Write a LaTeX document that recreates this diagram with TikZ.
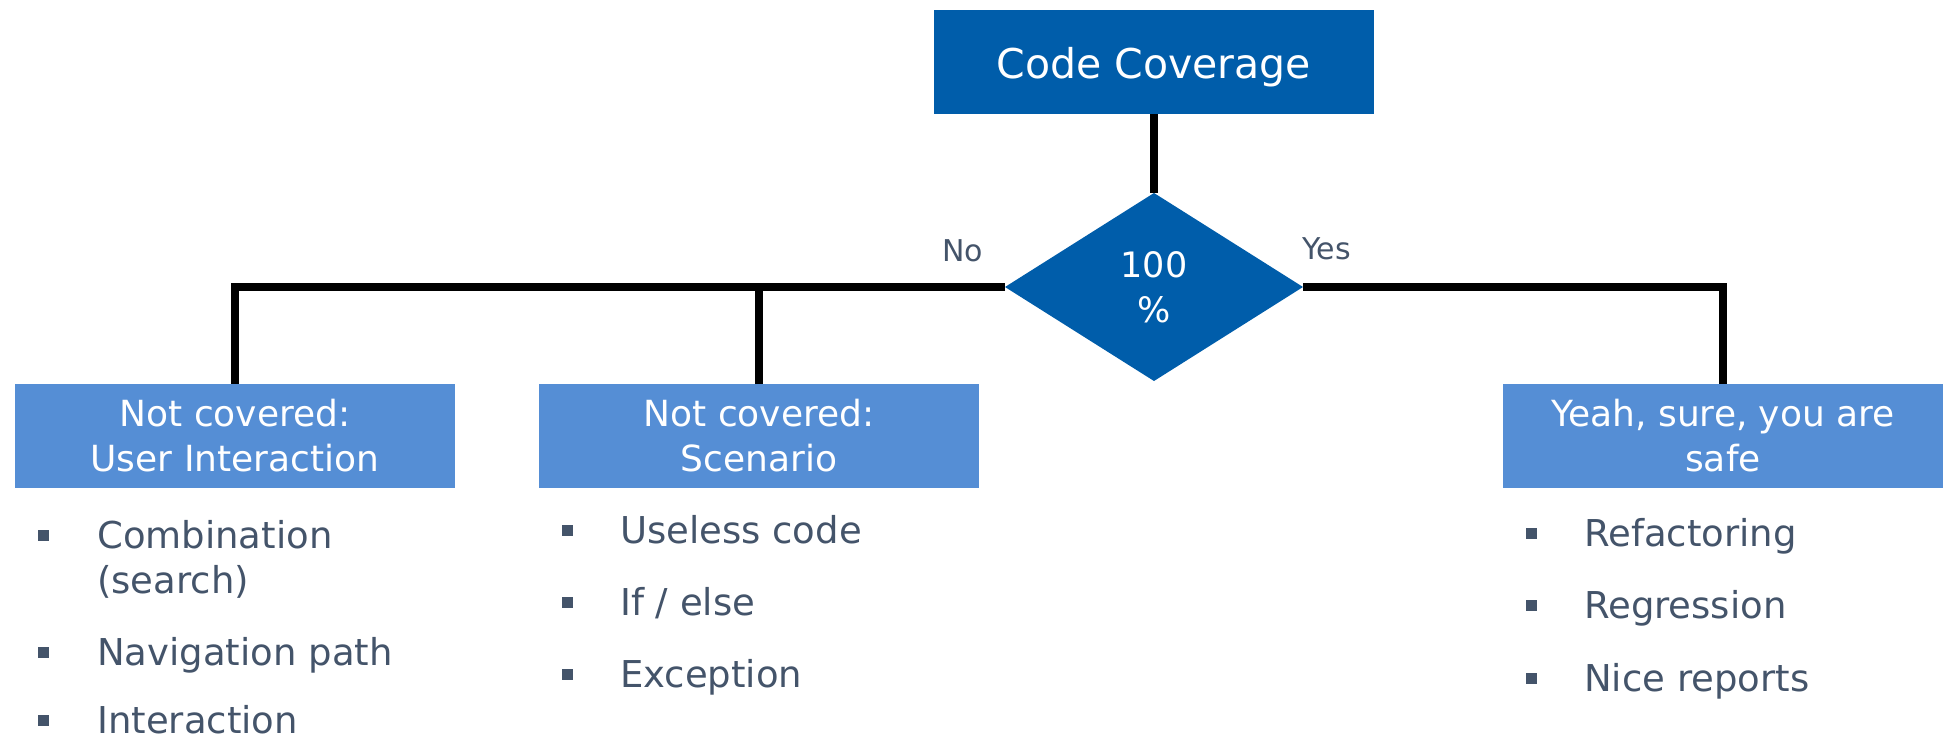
\documentclass[tikz,border=0pt]{standalone}
\usepackage{fontspec}
\setmainfont{DejaVu Sans}
\usetikzlibrary{shapes.geometric}
\definecolor{darkblue}{RGB}{0,93,170}
\definecolor{lightblue}{RGB}{85,142,213}
\definecolor{slate}{RGB}{68,84,106}
\begin{document}
\begin{tikzpicture}[x=1pt,y=-1pt,
  hdr/.style={rectangle,fill=lightblue,text=white,minimum width=440pt,minimum height=104pt,inner sep=0pt,outer sep=0pt,align=center,font=\fontsize{36}{45}\selectfont},
  conn/.style={line width=8pt,black,line join=miter},
  bul/.style={rectangle,fill=slate,minimum width=11pt,minimum height=11pt,inner sep=0pt},
  item/.style={anchor=base west,inner sep=0pt,text=slate,font=\fontsize{37}{45}\selectfont},
  lab/.style={anchor=base west,inner sep=0pt,text=slate,font=\fontsize{30}{36}\selectfont}]
\useasboundingbox (0,0) rectangle (1946,736);
\node[rectangle,fill=darkblue,text=white,minimum width=440pt,minimum height=104pt,inner sep=0pt,outer sep=0pt,text height=32pt,text depth=0pt,font=\fontsize{41}{48}\selectfont] (cc) at (1154,62) {Code Coverage};
\node[diamond,fill=darkblue,text=white,minimum width=298pt,minimum height=188pt,inner sep=0pt,outer sep=0pt,align=center,font=\fontsize{35}{45}\selectfont] (dia) at (1154,287) {100\\\%};
\node[hdr] (b1) at (235,436) {Not covered:\\User Interaction};
\node[hdr] (b2) at (759,436) {Not covered:\\Scenario};
\node[hdr] (b3) at (1723,436) {Yeah, sure, you are\\safe};
\draw[conn] (cc.south) -- (dia.north);
\draw[conn] (dia.west) -| (b1.north);
\draw[conn] (b2.north) -- (b2.north |- dia.west);
\draw[conn] (dia.east) -| (b3.north);
\node[lab] (no) at (942,261) {No};
\node[lab] (yes) at (1302,259) {Yes};
% left list
\node[bul] (l1b) at (43,535) {};
\node[item] (l1) at (97,548) {Combination};
\node[item] (l1x) at (97,593) {(search)};
\node[bul] (l2b) at (43,652) {};
\node[item] (l2) at (97,665) {Navigation path};
\node[bul] (l3b) at (43,720) {};
\node[item] (l3) at (97,733) {Interaction};
% middle list
\node[bul] (m1b) at (567,530) {};
\node[item] (m1) at (620,543) {Useless code};
\node[bul] (m2b) at (567,602) {};
\node[item] (m2) at (620,615) {If / else};
\node[bul] (m3b) at (567,674) {};
\node[item] (m3) at (620,687) {Exception};
% right list
\node[bul] (r1b) at (1531,533) {};
\node[item] (r1) at (1584,546) {Refactoring};
\node[bul] (r2b) at (1531,605) {};
\node[item] (r2) at (1584,618) {Regression};
\node[bul] (r3b) at (1531,678) {};
\node[item] (r3) at (1584,691) {Nice reports};
\end{tikzpicture}
\end{document}
